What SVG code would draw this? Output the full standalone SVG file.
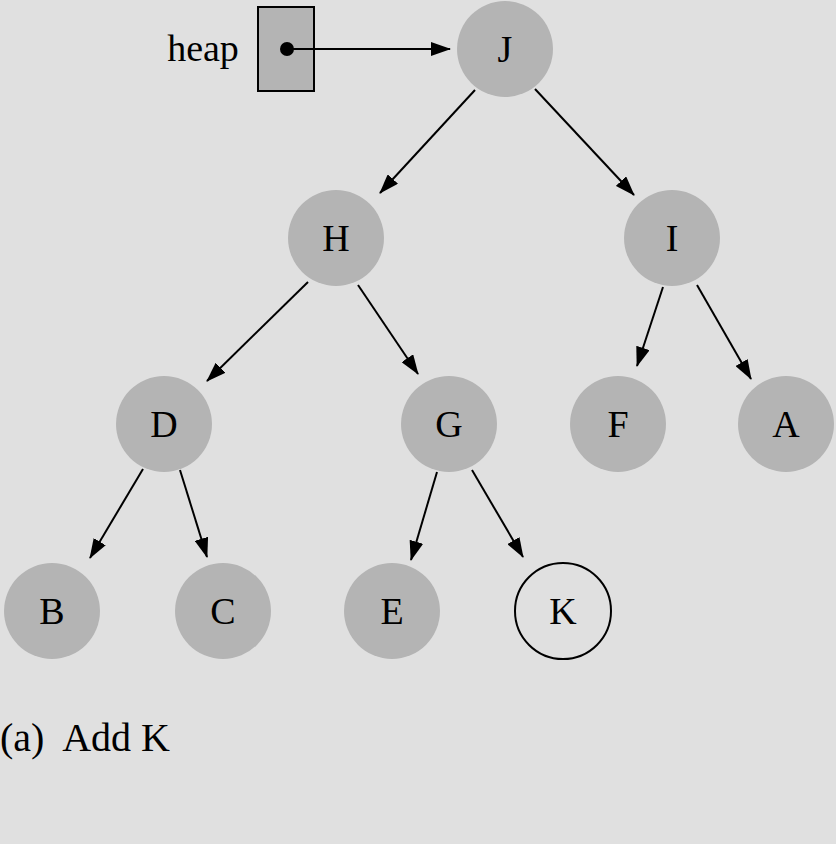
<svg xmlns="http://www.w3.org/2000/svg" width="836" height="844" viewBox="0 0 836 844">
<style>
.n{fill:#b4b4b4;}
.t{font-family:"Liberation Serif","DejaVu Serif",serif;font-size:38px;fill:#000;text-anchor:middle;}
.e{stroke:#000;stroke-width:2;fill:none;marker-end:url(#ah);}
</style>
<defs>
<marker id="ah" markerWidth="20" markerHeight="14" refX="19" refY="7" orient="auto" markerUnits="userSpaceOnUse">
<path d="M0,0 L20,7 L0,14 Z" fill="#000"/>
</marker>
</defs>
<rect width="836" height="844" fill="#e0e0e0"/>
<g id="heap">
<text x="203" y="61" class="t" font-size="40">heap</text>
<rect x="258" y="7" width="56" height="84" fill="#b4b4b4" stroke="#000" stroke-width="2"/>
<circle cx="287" cy="49" r="7" fill="#000"/>
</g>
<g id="connectors">
<line class="e" x1="287" y1="49" x2="450" y2="49"/>
<line class="e" x1="475" y1="90" x2="380" y2="193"/>
<line class="e" x1="535" y1="89" x2="634" y2="195"/>
<line class="e" x1="308" y1="282" x2="207" y2="381"/>
<line class="e" x1="358" y1="285" x2="418" y2="374"/>
<line class="e" x1="663" y1="287" x2="637" y2="366"/>
<line class="e" x1="697" y1="285" x2="751" y2="379"/>
<line class="e" x1="143" y1="469" x2="90" y2="558"/>
<line class="e" x1="180" y1="470" x2="207" y2="557"/>
<line class="e" x1="437" y1="472" x2="411" y2="560"/>
<line class="e" x1="472" y1="470" x2="523" y2="557"/>
</g>
<g id="J"><circle class="n" cx="505" cy="49" r="48"/><text class="t" x="505" y="62">J</text></g>
<g id="H"><circle class="n" cx="336" cy="238" r="48"/><text class="t" x="336" y="251">H</text></g>
<g id="I"><circle class="n" cx="672" cy="238" r="48"/><text class="t" x="672" y="251">I</text></g>
<g id="D"><circle class="n" cx="164" cy="424" r="48"/><text class="t" x="164" y="437">D</text></g>
<g id="G"><circle class="n" cx="449" cy="424" r="48"/><text class="t" x="449" y="437">G</text></g>
<g id="F"><circle class="n" cx="618" cy="424" r="48"/><text class="t" x="618" y="437">F</text></g>
<g id="A"><circle class="n" cx="786" cy="424" r="48"/><text class="t" x="786" y="437">A</text></g>
<g id="B"><circle class="n" cx="52" cy="611" r="48"/><text class="t" x="52" y="624">B</text></g>
<g id="C"><circle class="n" cx="223" cy="611" r="48"/><text class="t" x="223" y="624">C</text></g>
<g id="E"><circle class="n" cx="392" cy="611" r="48"/><text class="t" x="392" y="624">E</text></g>
<g id="K"><circle cx="563" cy="611" r="48" fill="none" stroke="#000" stroke-width="2"/><text class="t" x="563" y="624">K</text></g>
<text x="0" y="751" font-family="Liberation Serif, DejaVu Serif, serif" font-size="40" fill="#000" xml:space="preserve">(a)  Add K</text>
</svg>
